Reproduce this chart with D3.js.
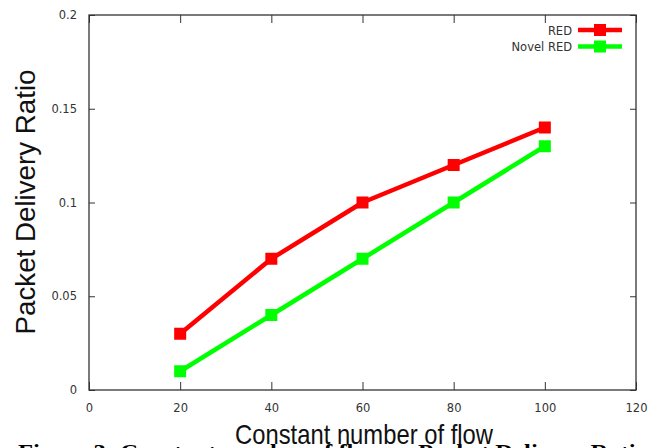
<!DOCTYPE html>
<html><head><meta charset="utf-8">
<script src="https://cdn.jsdelivr.net/npm/d3@7"></script>
<style>body{margin:0;background:#fff}svg{display:block}</style>
</head><body>
<script>
const flows = [20, 40, 60, 80, 100];
const redValues = [0.03, 0.07, 0.10, 0.12, 0.14];
const novelRedValues = [0.01, 0.04, 0.07, 0.10, 0.13];
const xTicks = [0, 20, 40, 60, 80, 100, 120];
const yTicks = [0, 0.05, 0.1, 0.15, 0.2];
const seriesNames = ["RED", "Novel RED"];
const seriesColors = ["#ff0000", "#00ff00"];

const W = 665, H = 448;
const L = 89, R = 636, T = 15, B = 390;
const svg = d3.select("body").append("svg").attr("width", W).attr("height", H);
const x = d3.scaleLinear().domain([0, 120]).range([L, R]);
const y = d3.scaleLinear().domain([0, 0.2]).range([B, T]);

const axisColor = "#333";
const tickFont = "DejaVu Sans, sans-serif";

// frame
svg.append("rect").attr("x", L).attr("y", T).attr("width", R - L).attr("height", B - T)
  .attr("fill", "none").attr("stroke", axisColor).attr("stroke-width", 1.3);

// bottom axis (inward ticks)
const gx = svg.append("g").attr("transform", `translate(0,${B})`)
  .call(d3.axisBottom(x).tickValues(xTicks).tickSize(-8).tickPadding(14).tickFormat(d3.format("d")));
gx.select(".domain").remove();
gx.selectAll("line").attr("stroke", axisColor);
gx.selectAll("text").attr("font-family", tickFont).attr("font-size", 11.5).attr("fill", axisColor);
// top mirrored ticks
const gxt = svg.append("g").attr("transform", `translate(0,${T})`)
  .call(d3.axisTop(x).tickValues(xTicks).tickSize(-8).tickFormat(""));
gxt.select(".domain").remove();
gxt.selectAll("line").attr("stroke", axisColor);

// left axis
const gy = svg.append("g").attr("transform", `translate(${L},0)`)
  .call(d3.axisLeft(y).tickValues(yTicks).tickSize(-6).tickPadding(12).tickFormat(d => d === 0 ? "0" : String(+d.toFixed(2))));
gy.select(".domain").remove();
gy.selectAll("line").attr("stroke", axisColor);
gy.selectAll("text").attr("font-family", tickFont).attr("font-size", 11.5).attr("fill", axisColor);
const gyr = svg.append("g").attr("transform", `translate(${R},0)`)
  .call(d3.axisRight(y).tickValues(yTicks).tickSize(-6).tickFormat(""));
gyr.select(".domain").remove();
gyr.selectAll("line").attr("stroke", axisColor);

// series
const series = [redValues, novelRedValues];
const line = d3.line().x((d, i) => x(flows[i])).y(d => y(d));
series.forEach((vals, s) => {
  svg.append("path").datum(vals).attr("d", line).attr("fill", "none")
    .attr("stroke", seriesColors[s]).attr("stroke-width", 4.5).attr("stroke-linejoin", "round");
  svg.selectAll(null).data(vals).enter().append("rect")
    .attr("x", (d, i) => x(flows[i]) - 6).attr("y", d => y(d) - 6)
    .attr("width", 12).attr("height", 12).attr("fill", seriesColors[s]);
});

// legend
seriesNames.forEach((name, s) => {
  const ly = 30 + s * 16.5;
  svg.append("text").attr("x", 572).attr("y", ly + 4.5).attr("text-anchor", "end")
    .attr("font-family", tickFont).attr("font-size", 11.5).attr("fill", axisColor).text(name);
  svg.append("line").attr("x1", 578).attr("x2", 622).attr("y1", ly).attr("y2", ly)
    .attr("stroke", seriesColors[s]).attr("stroke-width", 4.5);
  svg.append("rect").attr("x", 594).attr("y", ly - 6).attr("width", 12).attr("height", 12)
    .attr("fill", seriesColors[s]);
});

// axis labels
svg.append("text").attr("transform", `translate(35,202) rotate(-90)`)
  .attr("text-anchor", "middle").attr("font-family", "Liberation Sans, Arial, sans-serif")
  .attr("font-size", 27).attr("textLength", 265).attr("lengthAdjust", "spacingAndGlyphs")
  .attr("fill", "#111").text("Packet Delivery Ratio");
svg.append("text").attr("x", 364).attr("y", 444).attr("text-anchor", "middle")
  .attr("font-family", "Liberation Sans, Arial, sans-serif").attr("font-size", 28)
  .attr("textLength", 258).attr("lengthAdjust", "spacingAndGlyphs")
  .attr("fill", "#111").text("Constant number of flow");

// cut-off caption
svg.append("text").attr("x", 333).attr("y", 459).attr("text-anchor", "middle")
  .attr("font-family", "Liberation Serif, serif").attr("font-weight", "bold").attr("font-size", 20)
  .attr("textLength", 630).attr("lengthAdjust", "spacingAndGlyphs")
  .attr("fill", "#000").text("Figure 3: Constant number of flow vs Packet Delivery Ratio");
</script>
</body></html>
